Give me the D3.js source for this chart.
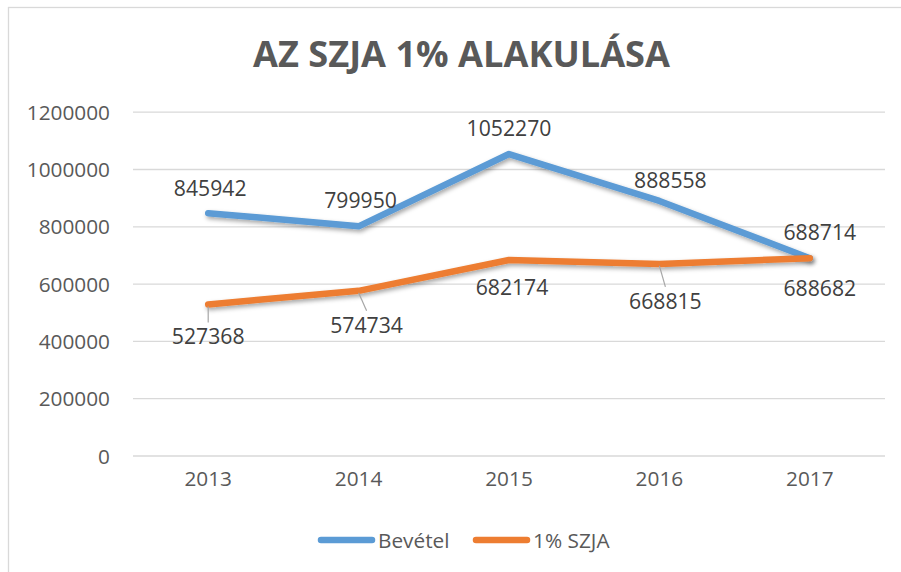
<!DOCTYPE html>
<html>
<head>
<meta charset="utf-8">
<script src="https://cdn.jsdelivr.net/npm/d3@7"></script>
<style>
  html, body { margin: 0; padding: 0; background: #fff; }
  svg { display: block; }
</style>
</head>
<body>
<svg id="chart" width="901" height="572"></svg>
<script>
// ---- data ----
const categories = ["2013", "2014", "2015", "2016", "2017"];
const bevetel = [845942, 799950, 1052270, 888558, 688714];
const szja = [527368, 574734, 682174, 668815, 688682];
const yTicks = [0, 200000, 400000, 600000, 800000, 1000000, 1200000];
const seriesNames = ["Bevétel", "1% SZJA"];
const titleText = "AZ SZJA 1% ALAKULÁSA";

// ---- layout / style (not data) ----
const colors = ["#5B9BD5", "#ED7D31"];
// label offsets relative to point (dx, dy of baseline)
const labelOffsetsA = [[2, -17], [2, -18], [0, -18], [11, -13], [10, -18]];
const labelOffsetsB = [[0, 40], [8, 42], [3, 35], [6, 45], [10, 38]];
const leaderB = [true, true, false, true, false];

const svg = d3.select("#chart");
const W = 901, H = 572;
const margin = { left: 133, right: 16, top: 111.7, bottom: 116.5 };

// border
svg.append("rect").attr("x", 8.5).attr("y", 7.5).attr("width", 900).attr("height", 600)
  .attr("fill", "#fff").attr("stroke", "#d9d9d9").attr("stroke-width", 1.3);

const defs = svg.append("defs");
const f = defs.append("filter").attr("id", "shadow")
  .attr("x", "-10%").attr("y", "-30%").attr("width", "120%").attr("height", "160%");
f.append("feDropShadow").attr("dx", 1.5).attr("dy", 2.5).attr("stdDeviation", 2)
  .attr("flood-color", "#000").attr("flood-opacity", 0.35);

const x = d3.scaleBand().domain(categories).range([133, 885]);
const y = d3.scaleLinear().domain([0, 1200000]).range([455.5, 111.7]);

// title
svg.append("text").attr("x", 461.5).attr("y", 66.5).attr("text-anchor", "middle")
  .attr("font-family", "'Open Sans', sans-serif").attr("font-weight", 700)
  .attr("font-size", 35).attr("fill", "#595959")
  .attr("textLength", 417).attr("lengthAdjust", "spacingAndGlyphs")
  .text(titleText);

// gridlines
const yAxis = d3.axisLeft(y).tickValues(yTicks).tickSize(-(885 - 133)).tickPadding(23)
  .tickFormat(d => String(d));
const gy = svg.append("g").attr("transform", "translate(133,0)").call(yAxis);
gy.select(".domain").remove();
gy.selectAll(".tick line").attr("stroke", "#d9d9d9").attr("stroke-width", 1.3);
gy.selectAll(".tick text").attr("font-family", "'Open Sans', sans-serif")
  .attr("font-size", 20.8).attr("fill", "#595959").attr("dy", "0.36em");

// x axis labels
const xAxis = d3.axisBottom(x).tickSize(0).tickPadding(23);
const gx = svg.append("g").attr("transform", "translate(0,455.5)").call(xAxis);
gx.select(".domain").remove();
gx.selectAll(".tick text").attr("font-family", "'Open Sans', sans-serif")
  .attr("font-size", 20.8).attr("fill", "#595959").attr("dy", "0.35em");

const cx = d => x(d) + x.bandwidth() / 2;
const line = d3.line().x((d, i) => cx(categories[i])).y(d => y(d));

const allSeries = [bevetel, szja];
allSeries.forEach((s, k) => {
  svg.append("path").datum(s).attr("d", line).attr("fill", "none")
    .attr("stroke", colors[k]).attr("stroke-width", 6.5)
    .attr("stroke-linejoin", "round").attr("stroke-linecap", "round")
    .attr("filter", "url(#shadow)");
});

// leader lines for series B
szja.forEach((v, i) => {
  if (!leaderB[i]) return;
  const px = cx(categories[i]), py = y(v);
  const lx = px + labelOffsetsB[i][0], ly = py + labelOffsetsB[i][1] - 22;
  svg.append("line").attr("x1", px).attr("y1", py + 2).attr("x2", lx).attr("y2", ly)
    .attr("stroke", "#a6a6a6").attr("stroke-width", 1.2);
});

const labelFont = g => g.attr("font-family", "'Open Sans', sans-serif")
  .attr("font-size", 21.2).attr("fill", "#404040").attr("text-anchor", "middle");

bevetel.forEach((v, i) => {
  svg.append("text").call(labelFont)
    .attr("x", cx(categories[i]) + labelOffsetsA[i][0])
    .attr("y", y(v) + labelOffsetsA[i][1]).text(String(v));
});
szja.forEach((v, i) => {
  svg.append("text").call(labelFont)
    .attr("x", cx(categories[i]) + labelOffsetsB[i][0])
    .attr("y", y(v) + labelOffsetsB[i][1]).text(String(v));
});

// legend
const legendItems = [{ x: 318, tx: 378 }, { x: 473, tx: 533 }];
seriesNames.forEach((n, k) => {
  const it = legendItems[k];
  svg.append("line").attr("x1", it.x + 3).attr("x2", it.x + 54).attr("y1", 540).attr("y2", 540)
    .attr("stroke", colors[k]).attr("stroke-width", 6.5).attr("stroke-linecap", "round");
  svg.append("text").attr("x", it.tx).attr("y", 547.5)
    .attr("font-family", "'Open Sans', sans-serif").attr("font-size", 20.8)
    .attr("fill", "#595959").text(n);
});
</script>
</body>
</html>
